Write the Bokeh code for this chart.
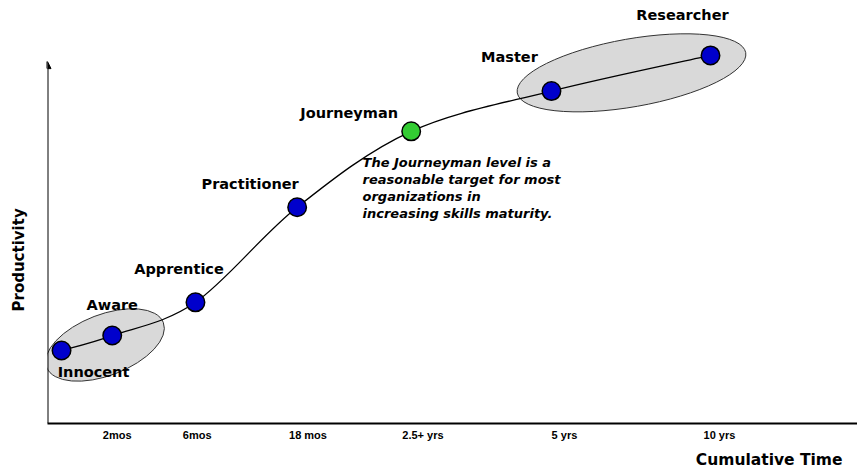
import math
from bokeh.plotting import figure
from bokeh.models import Range1d, FixedTicker, Arrow, NormalHead, ColumnDataSource, Title
from bokeh.core.properties import value
from bokeh.embed import file_html
from bokeh.resources import INLINE

# ---------------- data ----------------
stages = ["Innocent", "Aware", "Apprentice", "Practitioner", "Journeyman", "Master", "Researcher"]
stage_time = [1.75, 8.07, 18.45, 31.13, 45.35, 62.84, 82.67]      # position on the time axis
productivity = [17.6, 21.2, 29.2, 52.1, 70.4, 80.1, 88.7]          # productivity (0-100)

tick_pos = [8.69, 18.67, 32.48, 46.82, 64.46, 83.79]
tick_labels = ["2mos", "6mos", "18 mos", "2.5+ yrs", "5 yrs", "10 yrs"]

group_time = [7.17, 72.82]          # centres of the two grouping ellipses
group_prod = [18.92, 84.5]

note_time = 39.28
note_prod = 64.6
note_text = ("The Journeyman level is a\nreasonable target for most\n"
             "organizations in\nincreasing skills maturity.")

# ---------------- styles ----------------
stage_colors = ["#0000cc", "#0000cc", "#0000cc", "#0000cc", "#33cc33", "#0000cc", "#0000cc"]
label_dx = [32, 0, -16.5, -47, -62, -42, -28]
label_dy = [22, -30.5, -33.7, -23.7, -18, -34, -40]
group_w = [125, 232]
group_h = [61, 68]
group_angle = [math.radians(21), math.radians(10)]

p = figure(width=857, height=473, output_backend="svg", toolbar_location=None,
           x_range=Range1d(0, 101.0), y_range=Range1d(0, 100),
           min_border_left=47, min_border_right=0, min_border_top=8, min_border_bottom=50)
p.background_fill_color = "white"
p.border_fill_color = "white"
p.outline_line_color = None
p.grid.visible = False
p.yaxis.visible = False

# x axis (tick labels only, line along the bottom)
ax = p.xaxis[0]
ax.ticker = FixedTicker(ticks=tick_pos)
ax.major_label_overrides = {t: l for t, l in zip(tick_pos, tick_labels)}
ax.axis_line_width = 2
ax.axis_line_color = "black"
ax.major_tick_line_color = None
ax.minor_tick_line_color = None
ax.major_tick_out = 0
ax.major_tick_in = 0
ax.major_label_standoff = 5
ax.major_label_text_font = "Liberation Sans"
ax.major_label_text_font_style = "bold"
ax.major_label_text_font_size = "11px"
ax.major_label_text_color = "black"

# y axis arrow
p.add_layout(Arrow(end=NormalHead(size=7, fill_color="black", line_color="black"),
                   x_start=0, y_start=0, x_end=0, y_end=87.2,
                   line_width=2, line_color="black"))

# grouping ellipses
gsrc = ColumnDataSource(dict(x=group_time, y=group_prod, w=group_w, h=group_h, a=group_angle))
p.ellipse(x="x", y="y", width="w", height="h", angle="a", source=gsrc,
          width_units="screen", height_units="screen",
          fill_color="#d9d9d9", line_color="#333333", line_width=1)

# smooth connecting curve (Catmull-Rom as cubic Bezier segments)
n = len(stage_time)
x0, y0, x1, y1, cx0, cy0, cx1, cy1 = [], [], [], [], [], [], [], []
for i in range(n - 1):
    a = max(i - 1, 0)
    d = min(i + 2, n - 1)
    x0.append(stage_time[i]); y0.append(productivity[i])
    x1.append(stage_time[i + 1]); y1.append(productivity[i + 1])
    cx0.append(stage_time[i] + (stage_time[i + 1] - stage_time[a]) / 6)
    cy0.append(productivity[i] + (productivity[i + 1] - productivity[a]) / 6)
    cx1.append(stage_time[i + 1] - (stage_time[d] - stage_time[i]) / 6)
    cy1.append(productivity[i + 1] - (productivity[d] - productivity[i]) / 6)
p.bezier(x0=x0, y0=y0, x1=x1, y1=y1, cx0=cx0, cy0=cy0, cx1=cx1, cy1=cy1,
         line_color="black", line_width=1.3)

src = ColumnDataSource(dict(x=stage_time, y=productivity, name=stages, c=stage_colors,
                            dx=label_dx, dy=label_dy))
p.scatter(x="x", y="y", source=src, size=18.5, fill_color="c", line_color="black", line_width=1.5)

p.text(x="x", y="y", text="name", source=src, x_offset="dx", y_offset="dy",
       text_font=value("DejaVu Sans"), text_font_style="bold", text_font_size="14.5px",
       text_align="center", text_baseline="middle", text_color="black")

p.text(x=[note_time], y=[note_prod], text=[note_text],
       text_font=value("DejaVu Sans"), text_font_style="bold italic", text_font_size="13px",
       text_line_height=1.12, text_align="left", text_baseline="top", text_color="black")

# spacer between the frame and the vertical axis title
p.add_layout(Title(text=" ", text_font_size="2px", standoff=11), "left")
p.add_layout(Title(text="Productivity", align="left", offset=112, standoff=10,
                   text_font="DejaVu Sans", text_font_style="bold", text_font_size="15px",
                   text_color="black"), "left")
p.add_layout(Title(text="Cumulative Time", align="right", offset=15, standoff=10,
                   text_font="DejaVu Sans", text_font_style="bold", text_font_size="15.5px",
                   text_color="black"), "below")

open("out.html", "w").write(file_html(p, INLINE))
